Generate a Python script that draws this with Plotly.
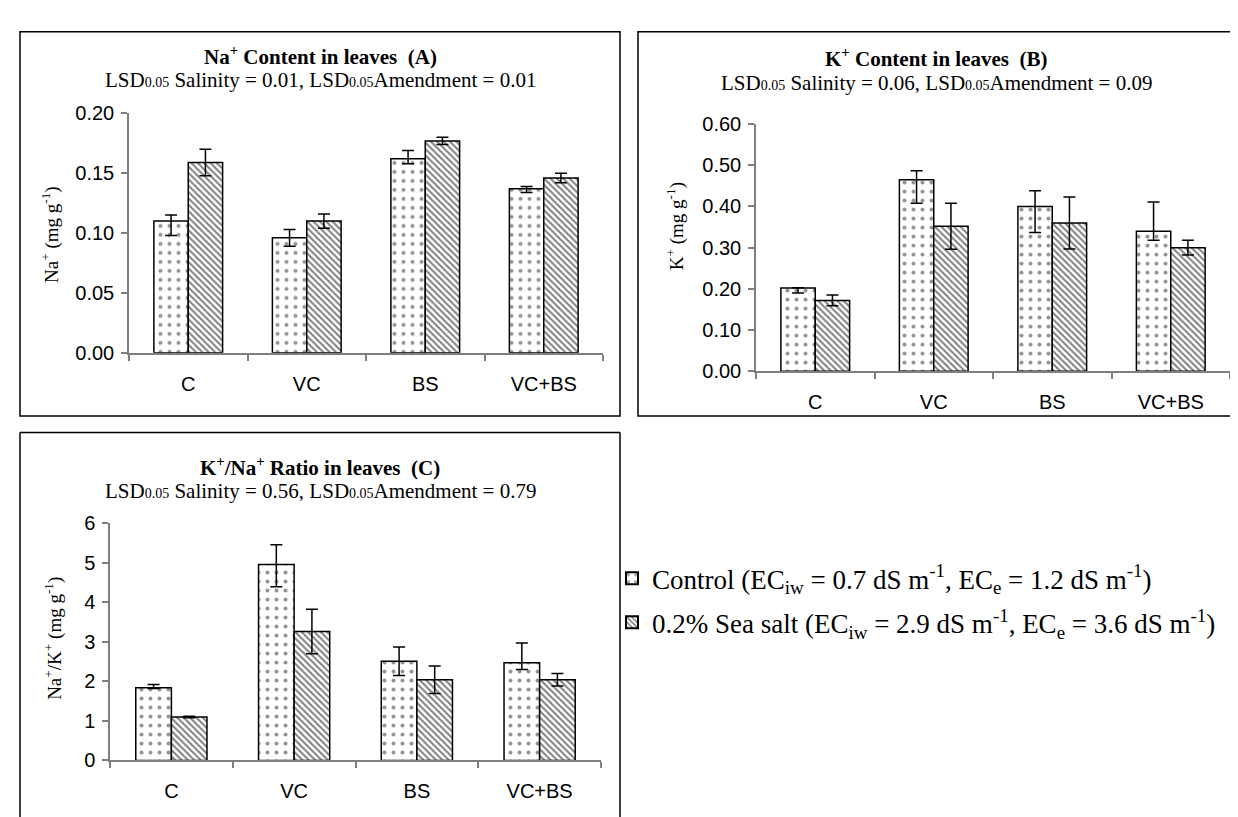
import plotly.graph_objects as go

W, H = 1238, 817

categories = ["C", "VC", "BS", "VC+BS"]
series_names = [
    "Control (EC<sub>iw</sub> = 0.7 dS m<sup>-1</sup>, EC<sub>e</sub> = 1.2 dS m<sup>-1</sup>)",
    "0.2% Sea salt (EC<sub>iw</sub> = 2.9 dS m<sup>-1</sup>, EC<sub>e</sub> = 3.6 dS m<sup>-1</sup>)",
]

# Panel A: Na+ content
na_control = [0.110, 0.096, 0.162, 0.137]
na_control_err_plus = [0.005, 0.007, 0.007, 0.002]
na_control_err_minus = [0.012, 0.007, 0.004, 0.003]
na_salt = [0.159, 0.110, 0.177, 0.146]
na_salt_err = [0.011, 0.006, 0.003, 0.004]

# Panel B: K+ content
k_control = [0.202, 0.465, 0.400, 0.340]
k_control_err_plus = [0.001, 0.022, 0.038, 0.071]
k_control_err_minus = [0.012, 0.057, 0.063, 0.022]
k_salt = [0.172, 0.352, 0.360, 0.300]
k_salt_err = [0.013, 0.056, 0.063, 0.018]

# Panel C: ratio
r_control = [1.84, 4.95, 2.51, 2.47]
r_control_err_plus = [0.08, 0.50, 0.36, 0.50]
r_control_err_minus = [0.02, 0.56, 0.36, 0.17]
r_salt = [1.10, 3.26, 2.04, 2.04]
r_salt_err = [0.02, 0.56, 0.35, 0.16]


def px(x):
    return x / W


def py(y):
    return 1 - y / H


SERIF = "Liberation Serif, Times New Roman, serif"
SANS = "Liberation Sans, Arial, sans-serif"

control_marker = dict(
    color="white",
    line=dict(color="black", width=1.5),
    pattern=dict(shape=".", fgcolor="#2a2a2a", bgcolor="white", size=9, solidity=0.16),
)
salt_marker = dict(
    color="white",
    line=dict(color="black", width=1.5),
    pattern=dict(shape="\\", fgcolor="black", bgcolor="white", size=4.5, solidity=0.45),
)

fig = go.Figure()

panels = [
    ("x", "y", na_control, na_control_err_plus, na_control_err_minus, na_salt, na_salt_err, True),
    ("x2", "y2", k_control, k_control_err_plus, k_control_err_minus, k_salt, k_salt_err, False),
    ("x3", "y3", r_control, r_control_err_plus, r_control_err_minus, r_salt, r_salt_err, False),
]

for xa, ya, cv, cep, cem, sv, se, show in panels:
    fig.add_trace(go.Bar(
        x=categories, y=cv, name=series_names[0], xaxis=xa, yaxis=ya,
        marker=control_marker, showlegend=show, legendgroup="c",
        error_y=dict(type="data", array=cep, arrayminus=cem, symmetric=False,
                     color="black", thickness=1.5, width=6),
    ))
    fig.add_trace(go.Bar(
        x=categories, y=sv, name=series_names[1], xaxis=xa, yaxis=ya,
        marker=salt_marker, showlegend=show, legendgroup="s",
        error_y=dict(type="data", array=se, color="black", thickness=1.5, width=6),
    ))

axis_line = "#7f7f7f"
TICK_SIZE = 20


def xaxis_cfg(x0, x1, anchor):
    return dict(
        domain=[px(x0), px(x1)], anchor=anchor, type="category",
        showline=True, linecolor=axis_line, linewidth=1.5,
        ticks="outside", tickson="boundaries", ticklen=6, tickcolor=axis_line, tickwidth=1.5,
        showgrid=False, zeroline=False,
        tickfont=dict(family=SANS, size=TICK_SIZE, color="black"),
        ticklabelstandoff=12,
        fixedrange=True,
    )


def yaxis_cfg(y_top, y_bot, anchor, rng, dtick, fmt):
    return dict(
        domain=[py(y_bot), py(y_top)], anchor=anchor, range=rng, dtick=dtick, tickformat=fmt,
        showline=True, linecolor=axis_line, linewidth=1.5,
        ticks="outside", ticklen=6, tickcolor=axis_line, tickwidth=1.5,
        showgrid=False, zeroline=False,
        tickfont=dict(family=SANS, size=TICK_SIZE, color="black"),
        ticklabelstandoff=3,
        fixedrange=True,
    )


fig.update_layout(
    width=W, height=H,
    margin=dict(l=0, r=0, t=0, b=0),
    paper_bgcolor="white", plot_bgcolor="white",
    barmode="group", bargap=0.42, bargroupgap=0,
    xaxis=xaxis_cfg(121, 595, "y"),
    yaxis=yaxis_cfg(97, 343, "x", [0, 0.20], 0.05, ".2f"),
    xaxis2=xaxis_cfg(748, 1222, "y2"),
    yaxis2=yaxis_cfg(108, 362, "x2", [0, 0.60], 0.10, ".2f"),
    xaxis3=xaxis_cfg(102, 593, "y3"),
    yaxis3=yaxis_cfg(518, 762, "x3", [0, 6], 1, "d"),
    legend=dict(
        x=px(604), y=py(550), xanchor="left", yanchor="top",
        font=dict(family=SERIF, size=27, color="black"),
        tracegroupgap=6, bgcolor="rgba(0,0,0,0)",
        itemsizing="constant",
    ),
    showlegend=True,
)

# Panel borders
shapes = []
for (x0, y0, x1, y1) in [(12, 13, 612, 408), (630, 13, 1228, 408)]:
    shapes.append(dict(type="rect", xref="paper", yref="paper",
                       x0=px(x0), y0=py(y0), x1=px(x1), y1=py(y1),
                       line=dict(color="black", width=1.5)))
for (x0, y0, x1, y1) in [(12, 425, 12, 830), (12, 425, 612, 425), (612, 425, 612, 830)]:
    shapes.append(dict(type="line", xref="paper", yref="paper",
                       x0=px(x0), y0=py(y0), x1=px(x1), y1=py(y1),
                       line=dict(color="black", width=1.5)))
fig.update_layout(shapes=shapes)

sub = "<span style='font-size:14px'>0.05</span>"
TITLE_SIZE = 21
SUB_SIZE = 21
annotations = [
    (312, 37, "<b>Na<sup>+</sup> Content in leaves  (A)</b>", 0, TITLE_SIZE),
    (312, 63, f"LSD{sub} Salinity = 0.01, LSD{sub}Amendment = 0.01", 0, SUB_SIZE),
    (928, 40, "<b>K<sup>+</sup> Content in leaves  (B)</b>", 0, TITLE_SIZE),
    (928, 66, f"LSD{sub} Salinity = 0.06, LSD{sub}Amendment = 0.09", 0, SUB_SIZE),
    (312, 460, "<b>K<sup>+</sup>/Na<sup>+</sup> Ratio in leaves  (C)</b>", 0, TITLE_SIZE),
    (312, 485, f"LSD{sub} Salinity = 0.56, LSD{sub}Amendment = 0.79", 0, SUB_SIZE),
    (42, 222, "Na<sup>+</sup> (mg g<sup>-1</sup>)", -90, 19),
    (667, 213, "K<sup>+</sup> (mg g<sup>-1</sup>)", -90, 19),
    (46, 637, "Na<sup>+</sup>/K<sup>+</sup> (mg g<sup>-1</sup>)", -90, 19),
]
for x, y, t, ang, fs in annotations:
    fig.add_annotation(x=px(x), y=py(y), xref="paper", yref="paper", text=t,
                       showarrow=False, textangle=ang, xanchor="center", yanchor="middle",
                       font=dict(family=SERIF, size=fs, color="black"))

fig.write_html("out.html")
